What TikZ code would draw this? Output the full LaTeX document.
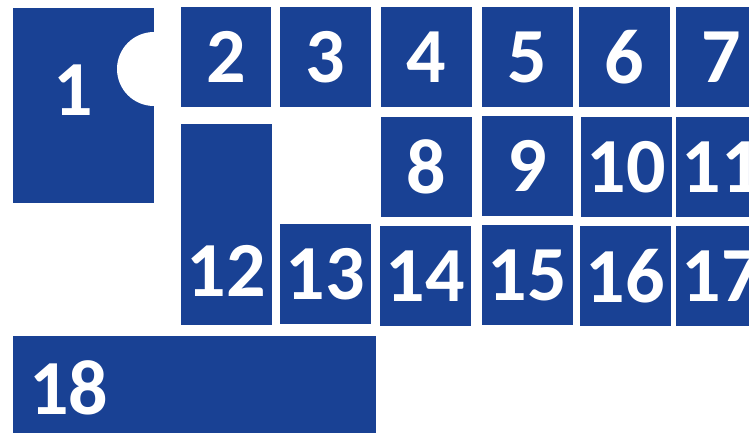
\documentclass[tikz,border=0pt]{standalone}
\usepackage{fontspec}
\setmainfont{Carlito}
\definecolor{tileblue}{RGB}{25,65,148}
\begin{document}
\begin{tikzpicture}[x=1pt,y=-1pt,
  tile/.style={fill=tileblue, draw=none, inner sep=0pt, outer sep=0pt, anchor=north west,
    minimum width=91pt, minimum height=100pt, text=white,
    font=\fontsize{78}{78}\selectfont\bfseries},
  numlabel/.style={inner sep=0pt, text=white, font=\fontsize{78}{78}\selectfont\bfseries}]
\useasboundingbox (0,0) rectangle (749,433);
\clip (0,0) rectangle (749,433);
% tile 1 with semicircular notch
\node[tile, minimum width=141pt, minimum height=195pt] (t1) at (13,8) {};
\begin{scope}
  \clip (13,8) rectangle (154,203);
  \fill[white] (154,69) circle[radius=37];
\end{scope}
\node[numlabel] (l1) at (73,90) {1};
\node[tile, minimum width=90pt] (t2) at (181,7) {2};
\node[tile] (t3) at (280,7) {3};
\node[tile] (t4) at (381,7) {4};
\node[tile] (t5) at (482,7) {5};
\node[tile] (t6) at (579,7) {6};
\node[tile] (t7) at (676,7) {7};
\node[tile] (t8) at (381,117) {8};
\node[tile] (t9) at (482,116) {9};
\node[tile] (t10) at (581,117) {10};
\node[tile] (t11) at (676,117) {11};
\node[tile, minimum height=201pt] (t12) at (181,124) {};
\node[numlabel] (l12) at (226.5,271) {12};
\node[tile] (t13) at (280,224) {13};
\node[tile] (t14) at (380,226) {14};
\node[tile] (t15) at (482,225) {15};
\node[tile] (t16) at (580,226) {16};
\node[tile] (t17) at (676,226) {17};
\node[tile, minimum width=363pt, minimum height=97pt] (t18) at (13,336) {};
\node[numlabel, anchor=west] (l18) at (29,388) {18};
\end{tikzpicture}
\end{document}
